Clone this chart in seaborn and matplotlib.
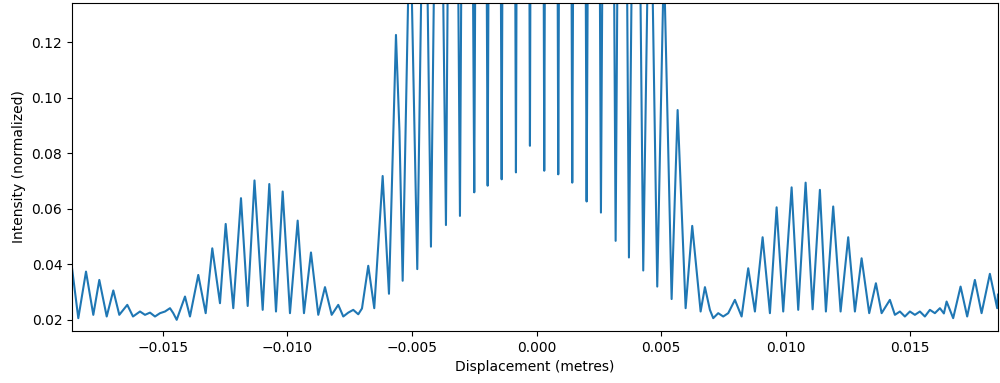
import numpy as np
import pandas as pd
import matplotlib
matplotlib.use("Agg")
import matplotlib.pyplot as plt
import seaborn as sns

# Fringe turning points (displacement in mm, intensity)
displacement_mm = [
    -18.644, -18.391, -18.082, -17.789, -17.548, -17.251, -16.986, -16.746, -16.425, -16.196,
    -15.915, -15.714, -15.514, -15.313, -15.112, -14.912, -14.711, -14.579, -14.442,
    -14.109, -13.909, -13.576, -13.279, -13.014, -12.705, -12.476, -12.171, -11.862, -11.593,
    -11.320, -10.991, -10.726, -10.457, -10.189, -9.896, -9.587, -9.334, -9.053, -8.760,
    -8.491, -8.222, -7.958, -7.757, -7.556, -7.356, -7.155, -7.006,
    -6.754, -6.513, -6.176, -5.923, -5.642, -5.502, -5.373,
    -5.080, -4.787, -4.498, -4.238, -3.937, -3.636, -3.355, -3.074, -2.793, -2.500,
    -2.231, -1.962, -1.681, -1.400, -1.108, -0.827, -0.546, -0.265, 0.016, 0.309,
    0.590, 0.871, 1.152, 1.433, 1.722, 2.010, 2.303, 2.584, 2.877, 3.174,
    3.439, 3.708, 3.989, 4.282, 4.551, 4.844, 5.112, 5.421,
    5.662, 5.983, 6.248, 6.585, 6.758,
    6.958, 7.091, 7.291, 7.492, 7.693, 7.961, 8.230,
    8.495, 8.764, 9.073, 9.366, 9.635, 9.900, 10.237, 10.502, 10.799, 11.080,
    11.372, 11.613, 11.906, 12.203, 12.508, 12.777, 13.046, 13.351, 13.620, 13.849,
    14.181, 14.382, 14.583, 14.783, 14.984, 15.185, 15.385, 15.586, 15.787, 15.987,
    16.188, 16.348, 16.457, 16.721, 17.018, 17.283, 17.592, 17.861, 18.194, 18.487, 18.52,
]
intensity = [
    0.0386, 0.0205, 0.0373, 0.0217, 0.0343, 0.0211, 0.0305, 0.0217, 0.0253, 0.0211,
    0.0229, 0.0217, 0.0225, 0.0211, 0.0223, 0.0229, 0.0241, 0.0223, 0.0199,
    0.0283, 0.0211, 0.0361, 0.0223, 0.0457, 0.0259, 0.0545, 0.0241, 0.0638, 0.0249,
    0.0702, 0.0235, 0.0689, 0.0229, 0.0662, 0.0223, 0.0557, 0.0223, 0.0442, 0.0217,
    0.0317, 0.0217, 0.0253, 0.0211, 0.0225, 0.0235, 0.0219, 0.0240,
    0.0394, 0.0241, 0.0718, 0.0293, 0.1227, 0.0880, 0.0340,
    0.17, 0.0382, 0.22, 0.0463, 0.28, 0.0541, 0.40, 0.0574, 0.50, 0.0659,
    0.60, 0.0683, 0.70, 0.0706, 0.80, 0.0731, 0.90, 0.0827, 1.00, 0.0737,
    0.90, 0.0724, 0.80, 0.0694, 0.70, 0.0626, 0.60, 0.0586, 0.50, 0.0484,
    0.40, 0.0424, 0.30, 0.0377, 0.20, 0.0319, 0.15, 0.0274,
    0.0956, 0.0241, 0.0538, 0.0229, 0.0317,
    0.0235, 0.0205, 0.0223, 0.0211, 0.0223, 0.0271, 0.0211,
    0.0385, 0.0229, 0.0497, 0.0223, 0.0605, 0.0229, 0.0677, 0.0235, 0.0694, 0.0237,
    0.0668, 0.0229, 0.0608, 0.0229, 0.0497, 0.0229, 0.0421, 0.0223, 0.0331, 0.0223,
    0.0271, 0.0217, 0.0229, 0.0211, 0.0229, 0.0217, 0.0229, 0.0211, 0.0235, 0.0223,
    0.0241, 0.0222, 0.0265, 0.0205, 0.0319, 0.0211, 0.0343, 0.0223, 0.0365, 0.0241, 0.0290,
]

df = pd.DataFrame({
    "Displacement (metres)": np.array(displacement_mm) / 1000.0,
    "Intensity (normalized)": intensity,
})

fig, ax = plt.subplots(figsize=(10, 3.83), dpi=100)
fig.subplots_adjust(left=0.072, right=0.998, top=0.992, bottom=0.136)

sns.lineplot(data=df, x="Displacement (metres)", y="Intensity (normalized)",
             color="#1f77b4", linewidth=1.5, estimator=None, sort=False, ax=ax)

ax.set_xlim(df["Displacement (metres)"].min(), df["Displacement (metres)"].max())
ax.set_ylim(0.0159, 0.1342)
ax.set_yticks([0.02, 0.04, 0.06, 0.08, 0.10, 0.12])

fig.savefig("out.png", dpi=100)
